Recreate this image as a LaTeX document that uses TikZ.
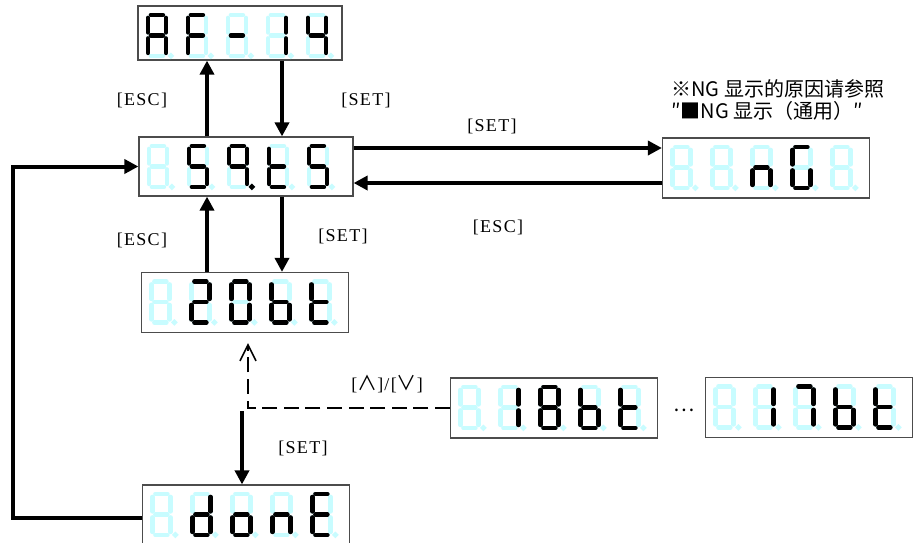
\documentclass[tikz,border=0pt]{standalone}
\usepackage{fontspec}
\setmainfont{Liberation Serif}
\newfontfamily\cjk{Noto Sans CJK SC}
\newfontfamily\keyfont[LetterSpace=7]{Liberation Serif}
\usetikzlibrary{arrows.meta,positioning,calc}
\definecolor{segdim}{HTML}{C8FCFF}

\tikzset{
  seg-a/.style={insert path={(5.5,2.5)--(17.5,2.5)}},
  seg-b/.style={insert path={(20.5,5.5)--(20.5,20)}},
  seg-c/.style={insert path={(20.5,26)--(20.5,40.5)}},
  seg-d/.style={insert path={(5.5,43.5)--(17.5,43.5)}},
  seg-e/.style={insert path={(2.5,26)--(2.5,40.5)}},
  seg-f/.style={insert path={(2.5,5.5)--(2.5,20)}},
  seg-g/.style={insert path={(5.5,23)--(17.5,23)}},
  seg-p/.style={insert path={(25.5,43.5) circle[radius=0.2]}},
  seg-n/.style={}}

\newcommand\segdigit[3]{%
  \begin{scope}[shift={(#1,#2)}]
    \foreach \s in {a,b,c,d,e,f,g,p} {\draw[segoff] [seg-\s];}
    \foreach \s in #3 {\draw[segon] [seg-\s];}
  \end{scope}}
\newcommand\segdisp[2]{%
  \begin{scope}[shift={(#1.north west)}]
    \foreach \lit [count=\i from 0] in {#2} {\segdigit{8+40*\i}{7}{\lit}}
  \end{scope}}

\begin{document}
\begin{tikzpicture}[
  x=0.5pt,y=-0.5pt,>=Latex,
  disp/.style={draw=black!70,line width=0.6pt,inner sep=0pt,minimum width=103.5pt,minimum height=30pt},
  segon/.style={draw=black,line width=2.25pt,line cap=round},
  segoff/.style={draw=segdim,line width=2.25pt,line cap=round},
  flow/.style={line width=2pt,-{Triangle[length=7pt,width=7pt]}},
  dashflow/.style={line width=0.8pt,dash pattern=on 7.5pt off 3.3pt,-{Straight Barb[length=8pt,width=8pt]}},
  keylbl/.style={font=\keyfont\fontsize{9}{11}\selectfont,inner sep=0pt},
  note/.style={font=\cjk\fontsize{10}{11}\selectfont,align=left,inner sep=0pt}]
\path[use as bounding box,fill=white] (0,0) rectangle (914,542);
\clip (0,0) rectangle (914,542);
\node[disp,minimum width=102pt,minimum height=27pt] (af) at (240,33) {};
\node[disp,minimum width=107pt,minimum height=29.5pt] (sys) at (246,166.5) {};
\node[disp] (bit20) at (245,302.5) {};
\node[disp] (ng) at (766,168) {};
\node[disp] (bit18) at (554,408) {};
\node[disp] (bit17) at (809,407.5) {};
\node[disp] (done) at (246,515) {};
\segdisp{af}{{a,b,c,e,f,g},{a,e,f,g},{g},{b,c},{b,c,f,g}}
\segdisp{sys}{{n},{a,c,d,f,g},{a,b,c,f,g,p},{d,e,f,g},{a,c,d,f,g}}
\segdisp{bit20}{{n},{a,b,d,e,g},{a,b,c,d,e,f},{c,d,e,f,g},{d,e,f,g}}
\segdisp{ng}{{n},{n},{c,e,g},{a,c,d,e,f},{n}}
\segdisp{bit18}{{n},{b,c},{a,b,c,d,e,f,g},{c,d,e,f,g},{d,e,f,g}}
\segdisp{bit17}{{n},{b,c},{a,b,c},{c,d,e,f,g},{d,e,f,g}}
\segdisp{done}{{n},{b,c,d,e,g},{c,d,e,g},{c,e,g},{a,d,e,f,g}}
\node[keylbl] (esc1) at (142,100) {[ESC]};
\node[keylbl] (set1) at (366,100) {[SET]};
\node[keylbl] (set2) at (492,126) {[SET]};
\node[keylbl] (esc2) at (498,227) {[ESC]};
\node[keylbl] (esc3) at (142,240) {[ESC]};
\node[keylbl] (set3) at (343,236) {[SET]};
\node[keylbl] (updn) at (387,384) {[{\cjk\fontsize{10}{11}\selectfont ∧}]/[{\cjk\fontsize{10}{11}\selectfont ∨}]};
\node[keylbl] (set4) at (303,448) {[SET]};
\node[note] (dots) at (684,410) {…};
\node[note,anchor=north west] (ngnote) at (671,79) {※NG 显示的原因请参照\\″■NG 显示（通用）″};
\coordinate (up) at ([xshift=1.5pt,yshift=-5pt]bit20.south);
\coordinate (setsrc) at ([xshift=-1.5pt,yshift=-39pt]bit20.south);
\draw[flow] ([xshift=-19.5pt]sys.north) -- ([xshift=-19.5pt]sys.north |- af.south);
\draw[flow] ([xshift=18pt]sys.north |- af.south) -- ([xshift=18pt]sys.north);
\draw[flow] ([yshift=9.25pt]sys.east) -- ([yshift=9.25pt]sys.east -| ng.west);
\draw[flow] ([yshift=-8.25pt]sys.east -| ng.west) -- ([yshift=-8.25pt]sys.east);
\draw[flow] ([xshift=-19.5pt]sys.south |- bit20.north) -- ([xshift=-19.5pt]sys.south);
\draw[flow] ([xshift=18pt]sys.south) -- ([xshift=18pt]sys.south |- bit20.north);
\draw[dashflow] (bit18.west) -| (up);
\draw[flow] (setsrc) -- (setsrc |- done.north);
\draw[flow] ([yshift=-1.5pt]done.west) -- ++(-128.5,0) |- (sys.west);
\end{tikzpicture}
\end{document}
